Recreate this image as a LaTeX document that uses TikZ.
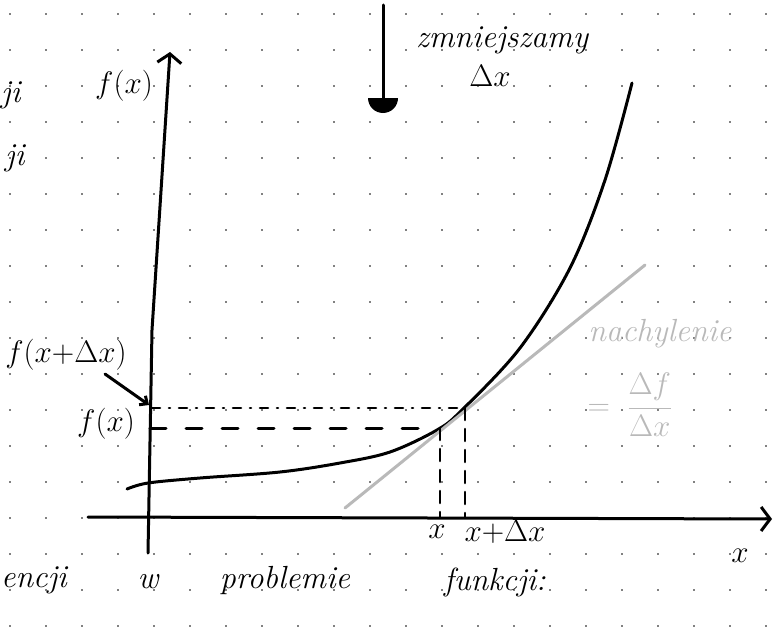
\documentclass[tikz,border=0pt]{standalone}
\usepackage{fontspec}
\usepackage{graphicx}
\usepackage{tikz}
\usetikzlibrary{arrows.meta,positioning,calc}
\definecolor{ink}{RGB}{0,0,0}
\definecolor{pencil}{RGB}{185,185,185}
\newcommand{\hm}[1]{\scalebox{1.25}{$\displaystyle #1$}}

\begin{document}
\begin{tikzpicture}[x=1pt,y=-1pt,
  font=\itshape\fontsize{32}{34}\selectfont,
  pen/.style={draw=ink,line width=3pt,line cap=round,line join=round},
  greypen/.style={draw=pencil,line width=3pt,line cap=round},
  ax/.style={pen,-{Straight Barb[length=9pt,width=24pt,line width=3pt]}},
  lbl/.style={inner sep=1pt,text=ink},
  glbl/.style={inner sep=1pt,text=pencil}]
\useasboundingbox (0,0) rectangle (778,634);

% dot paper
\foreach \i in {0,...,21}
  \foreach \j in {0,...,17}
    \fill[ink] (10+36*\i,14+36*\j) circle (0.9pt);

% axes
\coordinate (xs) at (88,517);
\coordinate (xe) at (772,519);
\coordinate (ys) at (148,553);
\coordinate (ym) at (152,330);
\coordinate (ye) at (170,52);
\draw[ax] (xs) -- (xe);
\draw[ax] (ys) -- (ym) -- (ye);
\node[lbl] (fy) at (124,86) {\hm{f(x)}};
\node[lbl] (xl) at (740,556) {\hm{x}};

% function
\draw[pen] plot[smooth,tension=0.55] coordinates {(127,489) (148,483) (200,478)
  (280,472) (340,463) (390,452) (437,430) (462,410) (520,348)
  (570,268) (605,180) (632,83)};

% secant / tangent
\coordinate (ts) at (345,508);
\coordinate (te) at (645,265);
\draw[greypen] (ts) -- (te);
\node[glbl] (nach) at (660,334) {nachylenie};
\node[glbl] (frac) at (630,405) {\hm{=\;\frac{\Delta f}{\Delta x}}};

% guide lines
\coordinate (p0) at (437,428);
\coordinate (p1) at (463,408);
\coordinate (a0) at (440,517);
\coordinate (a1) at (465,517);
\draw[pen,line width=2.6pt,dash pattern=on 8pt off 9pt on 1pt off 9pt] (152,408) -- (p1);
\draw[pen,dash pattern=on 16pt off 20pt] (150,428) -- (p0);
\draw[pen,line width=2.6pt,dash pattern=on 12pt off 9pt] (440,428) -- (a0);
\draw[pen,line width=2.6pt,dash pattern=on 12pt off 9pt] (p1 -| a1) -- (a1);
\node[lbl] (xa) at (437,532) {\hm{x}};
\node[lbl] (xb) at (505,532) {\hm{x{+}\Delta x}};

% labels on y axis
\node[lbl] (fdx) at (66,355) {\hm{f(x{+}\Delta x)}};
\node[lbl] (fx) at (106,424) {\hm{f(x)}};
\draw[pen,-{Straight Barb[length=6pt,width=11pt]}] (105,374) -- (149,405);

% shrink arrow
\coordinate (dt) at (383,5);
\coordinate (db) at (383,98);
\draw[pen] (dt) -- (db);
\fill[ink] (398,98) arc[start angle=0,end angle=180,radius=15] -- cycle;
\node[lbl] (zm) at (502,40) {zmniejszamy};
\node[lbl] (dx) at (490,76) {\hm{\Delta x}};

% text fragments
\node[lbl,anchor=west] (t1) at (0,95) {ji};
\node[lbl,anchor=west] (t2) at (4,158) {ji};
\node[lbl,anchor=west] (b1) at (0,580) {encji};
\node[lbl] (b2) at (148,582) {w};
\node[lbl] (b3) at (285,580) {problemie};
\node[lbl] (b4) at (495,582) {funkcji:};
\end{tikzpicture}
\end{document}
